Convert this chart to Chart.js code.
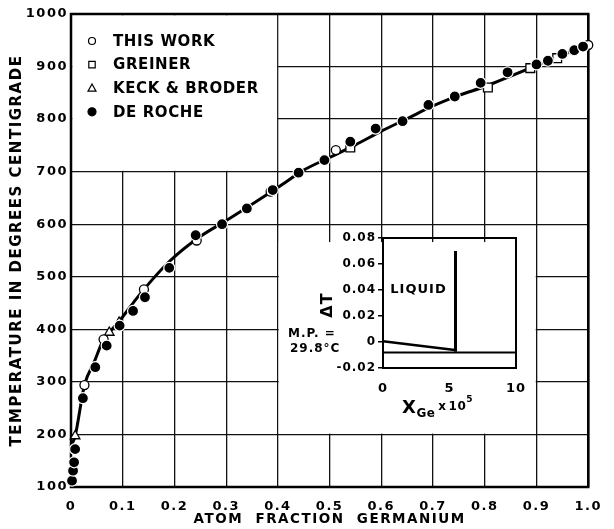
<!DOCTYPE html>
<html>
<head>
<meta charset="utf-8">
<script src="https://cdn.jsdelivr.net/npm/chart.js@4.4.0/dist/chart.umd.min.js"></script>
<style>
  body { margin: 0; background: #fff; }
  #wrap { position: relative; width: 614px; height: 529px; }
  #inset { position: absolute; left: 284px; top: 226px; }
</style>
</head>
<body>
<div id="wrap">
  <canvas id="main" width="614" height="529"></canvas>
  <canvas id="inset" width="262" height="200"></canvas>
</div>
<script>
const FONT = '"DejaVu Sans", sans-serif';
Chart.defaults.font.family = FONT;
Chart.defaults.font.weight = 'bold';
Chart.defaults.color = '#000';

// ---- main plot data ----
const xTickValues = [0, 0.1, 0.2, 0.3, 0.4, 0.5, 0.6, 0.7, 0.8, 0.9, 1.0];
const xTickLabels = ['0', '0.1', '0.2', '0.3', '0.4', '0.5', '0.6', '0.7', '0.8', '0.9', '1.0'];
const yTickValues = [100, 200, 300, 400, 500, 600, 700, 800, 900, 1000];
const yTickLabels = ['100', '200', '300', '400', '500', '600', '700', '800', '900', '1000'];

// liquidus curve
const curveX = [0, 0.008, 0.026, 0.045, 0.063, 0.074, 0.1, 0.12, 0.141, 0.19, 0.243, 0.3, 0.35, 0.4,
                0.45, 0.5, 0.55, 0.6, 0.65, 0.7, 0.75, 0.8, 0.85, 0.9, 0.95, 1.0];
const curveY = [178, 197, 294, 338, 381, 394, 424, 450, 476, 529, 572, 607, 638, 670,
                703, 727, 751, 777, 801, 825, 845, 862, 882, 902, 922, 940];

const thisWorkX = [0.026, 0.063, 0.141, 0.243, 0.386, 0.512, 1.0];
const thisWorkY = [294, 381, 476, 569, 662, 741, 941];

const greinerX = [0.54, 0.806, 0.888, 0.94];
const greinerY = [746, 860, 897, 916];

const keckX = [0.008, 0.074, 0.093];
const keckY = [197, 394, 413];

const deRocheX = [0.002, 0.004, 0.006, 0.008, 0.023, 0.047, 0.069, 0.094, 0.12, 0.143, 0.19, 0.241,
                  0.292, 0.34, 0.39, 0.44, 0.49, 0.54, 0.589, 0.641, 0.691, 0.742, 0.792, 0.844,
                  0.90, 0.922, 0.95, 0.973, 0.99];
const deRocheY = [112, 131, 147, 172, 269, 328, 369, 407, 435, 461, 517, 579,
                  600, 630, 665, 698, 722, 757, 782, 796, 827, 843, 869, 889,
                  904, 911, 924, 931, 938];

const legendLabels = ['THIS WORK', 'GREINER', 'KECK & BRODER', 'DE ROCHE'];

// ---- inset data ----
const insetXTicks = [0, 5, 10];
const insetXLabels = ['0', '5', '10'];
const insetYTicks = [-0.02, 0, 0.02, 0.04, 0.06, 0.08];
const insetYLabels = ['-0.02', '0', '0.02', '0.04', '0.06', '0.08'];
const baseX = [0, 10];
const baseY = [-0.008, -0.008];
const slopeX = [0, 5.4];
const slopeY = [0.0005, -0.0062];
const riseX = [5.45, 5.45];
const riseY = [-0.0075, 0.07];

const pts = (xs, ys) => xs.map((x, i) => ({ x: x, y: ys[i] }));

// blank panels (in data units) that cover the grid
const legendPanel = { x0: 0, x1: 0.4, y0: 700, y1: 1000 };
const insetPanel = { x0: 0.4, x1: 0.9, y0: 200, y1: 566 };

function marker(ctx, style, x, y, r, filled) {
  ctx.beginPath();
  if (style === 'circle') ctx.arc(x, y, r, 0, Math.PI * 2);
  else if (style === 'rect') ctx.rect(x - r, y - r, 2 * r, 2 * r);
  else { ctx.moveTo(x, y - r); ctx.lineTo(x + r * 0.95, y + r * 0.7); ctx.lineTo(x - r * 0.95, y + r * 0.7); ctx.closePath(); }
  ctx.fillStyle = filled ? '#000' : '#fff';
  ctx.fill();
  ctx.lineWidth = 1.2;
  ctx.strokeStyle = '#000';
  ctx.stroke();
}

function spacingPlugin(px) {
  return {
    id: 'spacing',
    beforeUpdate(c) { c.ctx.letterSpacing = px; },
    beforeDraw(c) { c.ctx.letterSpacing = px; }
  };
}

const panels = {
  id: 'panels',
  beforeDatasetsDraw(c) {
    const { ctx, chartArea: a, scales: { x, y } } = c;
    ctx.save();
    ctx.fillStyle = '#fff';
    let l = x.getPixelForValue(legendPanel.x0) + 1.3, r = x.getPixelForValue(legendPanel.x1) - 0.8;
    let t = y.getPixelForValue(legendPanel.y1) + 1.3, b = y.getPixelForValue(legendPanel.y0) - 0.8;
    ctx.fillRect(l, t, r - l, b - t);
    l = x.getPixelForValue(insetPanel.x0) + 0.8; r = x.getPixelForValue(insetPanel.x1) - 0.8;
    t = y.getPixelForValue(insetPanel.y1); b = y.getPixelForValue(insetPanel.y0) - 0.8;
    ctx.fillRect(l, t, r - l, b - t);
    ctx.strokeStyle = '#000';
    ctx.lineWidth = 2.5;
    ctx.strokeRect(a.left, a.top, a.width, a.height);
    ctx.restore();
  },
  afterDatasetsDraw(c) {
    const { ctx, chartArea: a } = c;
    const styles = [['circle', 3.5, false], ['rect', 3.2, false], ['triangle', 4.2, false], ['circle', 4, true]];
    ctx.save();
    ctx.letterSpacing = '0.6px';
    ctx.font = 'bold 15px ' + FONT;
    ctx.textBaseline = 'middle';
    legendLabels.forEach((lab, i) => {
      const yy = a.top + 27 + i * 23.6;
      marker(ctx, styles[i][0], a.left + 21, yy, styles[i][1], styles[i][2]);
      ctx.fillStyle = '#000';
      ctx.fillText(lab, a.left + 42, yy + 1);
    });
    ctx.restore();
  }
};

new Chart(document.getElementById('main'), {
  type: 'scatter',
  data: {
    datasets: [
      { label: 'curve', data: pts(curveX, curveY), showLine: true, borderColor: '#000', borderWidth: 3,
        pointRadius: 0, cubicInterpolationMode: 'monotone', order: 5, clip: false },
      { label: legendLabels[0], data: pts(thisWorkX, thisWorkY), pointStyle: 'circle', pointRadius: 4.5,
        pointBackgroundColor: '#fff', pointBorderColor: '#000', pointBorderWidth: 1.3, order: 1, clip: false },
      { label: legendLabels[1], data: pts(greinerX, greinerY), pointStyle: 'rect', pointRadius: 6.2,
        pointBackgroundColor: '#fff', pointBorderColor: '#000', pointBorderWidth: 1.3, order: 2, clip: false },
      { label: legendLabels[2], data: pts(keckX, keckY), pointStyle: 'triangle', pointRadius: 5.5,
        pointBackgroundColor: '#fff', pointBorderColor: '#000', pointBorderWidth: 1.3, order: 2, clip: false },
      { label: legendLabels[3], data: pts(deRocheX, deRocheY), pointStyle: 'circle', pointRadius: 5.5,
        pointBackgroundColor: '#000', pointBorderColor: '#fff', pointBorderWidth: 1.2, order: 0, clip: false }
    ]
  },
  options: {
    responsive: false,
    animation: false,
    events: [],
    layout: { padding: { top: 14, right: 14, left: 0, bottom: 0 } },
    plugins: { legend: { display: false }, tooltip: { enabled: false } },
    scales: {
      x: {
        type: 'linear', min: 0, max: 1,
        afterBuildTicks: s => { s.ticks = xTickValues.map(v => ({ value: v })); },
        ticks: { callback: (v, i) => xTickLabels[i], font: { size: 13 }, padding: 12, maxRotation: 0, autoSkip: false },
        grid: { color: '#111', lineWidth: 1.3, drawTicks: false },
        border: { display: false },
        title: { display: true, text: 'ATOM  FRACTION  GERMANIUM', font: { size: 13.5 }, padding: { top: 0, bottom: 1 } },
        afterFit: s => { s.height = 42; }
      },
      y: {
        min: 100, max: 1000,
        afterBuildTicks: s => { s.ticks = yTickValues.map(v => ({ value: v })); },
        ticks: { callback: (v, i) => yTickLabels[i], font: { size: 13 }, padding: 3, autoSkip: false },
        grid: { color: '#111', lineWidth: 1.3, drawTicks: false },
        border: { display: false },
        title: { display: true, text: 'TEMPERATURE IN DEGREES CENTIGRADE', font: { size: 15 }, padding: { top: 8, bottom: 0 } },
        afterFit: s => { s.width = 71; }
      }
    }
  },
  plugins: [spacingPlugin('1.5px'), panels]
});

// ---- inset ----
const insetText = {
  id: 'insetText',
  afterDraw(c) {
    const { ctx, chartArea: a, scales: { x, y } } = c;
    ctx.save();
    ctx.strokeStyle = '#000';
    ctx.lineWidth = 2;
    ctx.strokeRect(a.left, a.top, a.width, a.height);
    ctx.fillStyle = '#000';
    ctx.letterSpacing = '1px';
    ctx.textBaseline = 'middle';
    ctx.textAlign = 'left';
    ctx.font = 'bold 13px ' + FONT;
    ctx.fillText('LIQUID', x.getPixelForValue(0.55), y.getPixelForValue(0.04));
    ctx.font = 'bold 12px ' + FONT;
    ctx.fillText('M.P. =', 4, a.top + 96);
    ctx.fillText('29.8°C', 6, a.top + 111);
    ctx.save();
    ctx.translate(a.left - 55, (a.top + a.bottom) / 2 + 2);
    ctx.rotate(-Math.PI / 2);
    ctx.textAlign = 'center';
    ctx.font = 'bold 16px ' + FONT;
    ctx.fillText('ΔT', 0, 0);
    ctx.restore();
    // axis title  X_Ge x 10^5
    ctx.letterSpacing = '0.5px';
    ctx.textBaseline = 'alphabetic';
    const base = a.bottom + 45;
    let px = a.left + 19;
    ctx.font = 'bold 18px ' + FONT;
    ctx.fillText('X', px, base);
    px += ctx.measureText('X').width;
    ctx.font = 'bold 12px ' + FONT;
    ctx.fillText('Ge', px, base + 4);
    px += ctx.measureText('Ge').width + 3;
    ctx.fillText('x', px, base - 3);
    px += ctx.measureText('x').width + 2;
    ctx.fillText('10', px, base - 3);
    px += ctx.measureText('10').width;
    ctx.font = 'bold 9px ' + FONT;
    ctx.fillText('5', px, base - 11);
    ctx.restore();
  }
};

new Chart(document.getElementById('inset'), {
  type: 'scatter',
  data: {
    datasets: [
      { data: pts(baseX, baseY), showLine: true, borderColor: '#000', borderWidth: 2, pointRadius: 0, clip: false },
      { data: pts(slopeX, slopeY), showLine: true, borderColor: '#000', borderWidth: 2.5, pointRadius: 0, clip: false },
      { data: pts(riseX, riseY), showLine: true, borderColor: '#000', borderWidth: 3, pointRadius: 0, clip: false }
    ]
  },
  options: {
    responsive: false,
    animation: false,
    events: [],
    layout: { padding: { top: 12, right: 30, left: 0, bottom: 0 } },
    plugins: { legend: { display: false }, tooltip: { enabled: false } },
    scales: {
      x: {
        type: 'linear', min: 0, max: 10,
        afterBuildTicks: s => { s.ticks = insetXTicks.map(v => ({ value: v })); },
        ticks: { callback: (v, i) => insetXLabels[i], font: { size: 13 }, padding: 5, maxRotation: 0, autoSkip: false },
        grid: { display: false },
        border: { display: false },
        afterFit: s => { s.height = 58; }
      },
      y: {
        min: -0.02, max: 0.08,
        afterBuildTicks: s => { s.ticks = insetYTicks.map(v => ({ value: v })); },
        ticks: { callback: (v, i) => insetYLabels[i], font: { size: 12 }, padding: 2, autoSkip: false },
        grid: { drawOnChartArea: false, tickLength: 5, color: '#000', lineWidth: 1.5 },
        border: { display: false },
        afterFit: s => { s.width = 99; }
      }
    }
  },
  plugins: [spacingPlugin('1px'), insetText]
});
</script>
</body>
</html>
